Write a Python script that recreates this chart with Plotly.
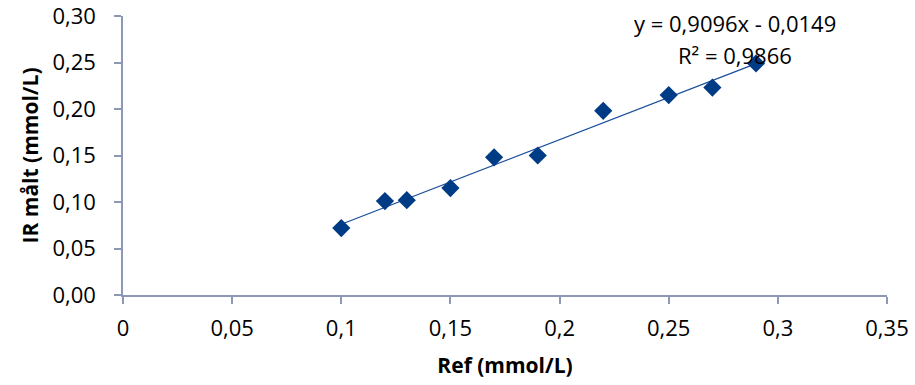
import plotly.graph_objects as go
import numpy as np

ref_x = [0.10, 0.12, 0.13, 0.15, 0.17, 0.19, 0.22, 0.25, 0.27, 0.29]
ir_y = [0.072, 0.101, 0.102, 0.115, 0.148, 0.150, 0.198, 0.215, 0.223, 0.249]
x_ticks = [0, 0.05, 0.1, 0.15, 0.2, 0.25, 0.3, 0.35]
y_ticks = [0, 0.05, 0.10, 0.15, 0.20, 0.25, 0.30]
slope = 0.9096
intercept = -0.0149
eq_text = "y = 0,9096x - 0,0149"
r2_text = "R² = 0,9866"

line_x = np.array([min(ref_x), max(ref_x)])
line_y = slope * line_x + intercept

FONT = "Open Sans"
AX = "#8D98B5"

fig = go.Figure()
fig.add_trace(go.Scatter(x=line_x, y=line_y, mode="lines",
                         line=dict(color="#1B4F9C", width=1.3), hoverinfo="skip"))
fig.add_trace(go.Scatter(x=ref_x, y=ir_y, mode="markers",
                         marker=dict(symbol="diamond", size=14, color="#003C86")))

fig.add_annotation(x=0.2805, y=0.3, xref="x", yref="y", text=eq_text, showarrow=False,
                   font=dict(family=FONT, size=22, color="#000"), yshift=-7)
fig.add_annotation(x=0.2805, y=0.3, xref="x", yref="y", text=r2_text, showarrow=False,
                   font=dict(family=FONT, size=22, color="#000"), yshift=-39)

fig.update_layout(
    width=915, height=385, showlegend=False,
    margin=dict(l=123, r=28, t=16, b=90),
    paper_bgcolor="white", plot_bgcolor="white",
    separators=", ",
    font=dict(family=FONT, size=22, color="#000"),
    xaxis=dict(range=[0, 0.35], tickmode="array", tickvals=x_ticks, showgrid=False, zeroline=False,
               showline=True, linecolor=AX, linewidth=1.5, ticks="outside", ticklen=7,
               tickcolor=AX, tickwidth=1.5, ticklabelstandoff=6, automargin=False,
               ticklabeloverflow="allow",
               title=dict(text="<b>Ref (mmol/L)</b>", font=dict(size=21), standoff=17)),
    yaxis=dict(range=[0, 0.30], tickmode="array", tickvals=y_ticks, tickformat=".2f", showgrid=False,
               zeroline=False, showline=True, linecolor=AX, linewidth=1.5, ticks="outside",
               ticklen=7, tickcolor=AX, tickwidth=1.5, ticklabelstandoff=14, automargin=False,
               ticklabeloverflow="allow",
               title=dict(text="<b>IR målt (mmol/L)</b>", font=dict(size=21), standoff=8)),
)

fig.write_html("out.html")
